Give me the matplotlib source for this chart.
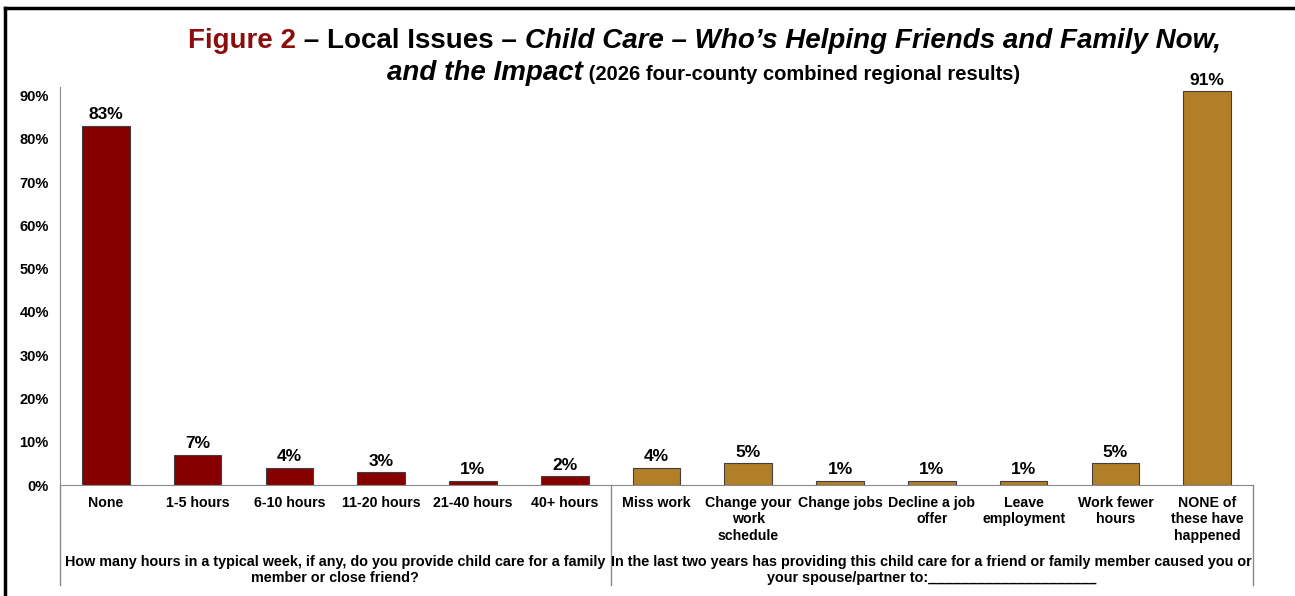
import matplotlib.pyplot as plt
from matplotlib.lines import Line2D

plt.rcParams['font.family'] = ['Liberation Sans', 'DejaVu Sans']

# data
hours_labels = ['None', '1-5 hours', '6-10 hours', '11-20 hours', '21-40 hours', '40+ hours']
hours_values = [83, 7, 4, 3, 1, 2]
impact_labels = ['Miss work', 'Change your\nwork\nschedule', 'Change jobs', 'Decline a job\noffer',
                 'Leave\nemployment', 'Work fewer\nhours', 'NONE of\nthese have\nhappened']
impact_values = [4, 5, 1, 1, 1, 5, 91]
group_labels = ['How many hours in a typical week, if any, do you provide child care for a family\nmember or close friend?',
                'In the last two years has providing this child care for a friend or family member caused you or\nyour spouse/partner to:_____________________']
yticks = [0, 10, 20, 30, 40, 50, 60, 70, 80, 90]

red = '#860000'
gold = '#B07F28'

fig = plt.figure(figsize=(12.95, 5.96), dpi=100)
ax = fig.add_axes([0.0463, 0.1862, 0.9213, 0.6678])

labels = hours_labels + impact_labels
values = hours_values + impact_values
colors = [red] * len(hours_values) + [gold] * len(impact_values)
x = list(range(len(values)))

ax.bar(x, values, width=0.52, color=colors, edgecolor='#404040', linewidth=0.8, zorder=2)
for xi, v in zip(x, values):
    ax.text(xi, v + 0.8, f'{v}%', ha='center', va='bottom', fontsize=12.5, fontweight='bold')

ax.set_xlim(-0.5, len(values) - 0.5)
ax.set_ylim(0, 92)
ax.set_yticks(yticks)
ax.set_yticklabels([f'{t}%' for t in yticks], fontsize=10.5, fontweight='bold')
ax.set_xticks(x)
ax.set_xticklabels(labels, fontsize=10.2, fontweight='bold', linespacing=1.2)
ax.tick_params(axis='both', length=0)
ax.tick_params(axis='x', pad=8)
ax.tick_params(axis='y', pad=8)

for s in ['top', 'right']:
    ax.spines[s].set_visible(False)
ax.spines['left'].set_color('#8a8a8a')
ax.spines['bottom'].set_color('#8a8a8a')

# group dividers below the axis
trans = ax.get_xaxis_transform()
for xd in [-0.5, 5.5, len(values) - 0.5]:
    ax.plot([xd, xd], [0, -0.252], transform=trans, color='#8a8a8a', lw=1, clip_on=False)

ax.text(2.5, -0.175, group_labels[0], transform=trans, ha='center', va='top',
        fontsize=10.4, fontweight='bold', linespacing=1.25)
ax.text(9.0, -0.175, group_labels[1], transform=trans, ha='center', va='top',
        fontsize=10.4, fontweight='bold', linespacing=1.25)

# title made of mixed-style pieces
renderer = fig.canvas.get_renderer()


def rich_line(pieces, xc, y):
    texts = []
    for s, kw in pieces:
        t = fig.text(0, y, s, va='baseline', ha='left', **kw)
        texts.append(t)
    widths = [t.get_window_extent(renderer).width for t in texts]
    total = sum(widths)
    xpix = xc * fig.bbox.width - total / 2
    for t, w in zip(texts, widths):
        t.set_x(xpix / fig.bbox.width)
        xpix += w


line1 = [('Figure 2', dict(color='#8B0E0E', fontsize=20, fontweight='bold')),
         (' \u2013 Local Issues \u2013 ', dict(fontsize=20, fontweight='bold')),
         ('Child Care \u2013 Who\u2019s Helping Friends and Family Now,', dict(fontsize=20, fontweight='bold', style='italic'))]
line2 = [('and the Impact', dict(fontsize=20, fontweight='bold', style='italic')),
         (' (2026 four-county combined regional results)', dict(fontsize=14.5, fontweight='bold'))]
rich_line(line1, 0.544, 1 - 47.5 / 596)
rich_line(line2, 0.543, 1 - 79.5 / 596)

# black frame (left and top edges)
fig.add_artist(Line2D([5 / 1295, 5 / 1295], [0, 1 - 8 / 596], color='black', lw=2.5, transform=fig.transFigure))
fig.add_artist(Line2D([5 / 1295, 1], [1 - 8 / 596, 1 - 8 / 596], color='black', lw=2.5, transform=fig.transFigure))

fig.savefig('out.png', dpi=100)
